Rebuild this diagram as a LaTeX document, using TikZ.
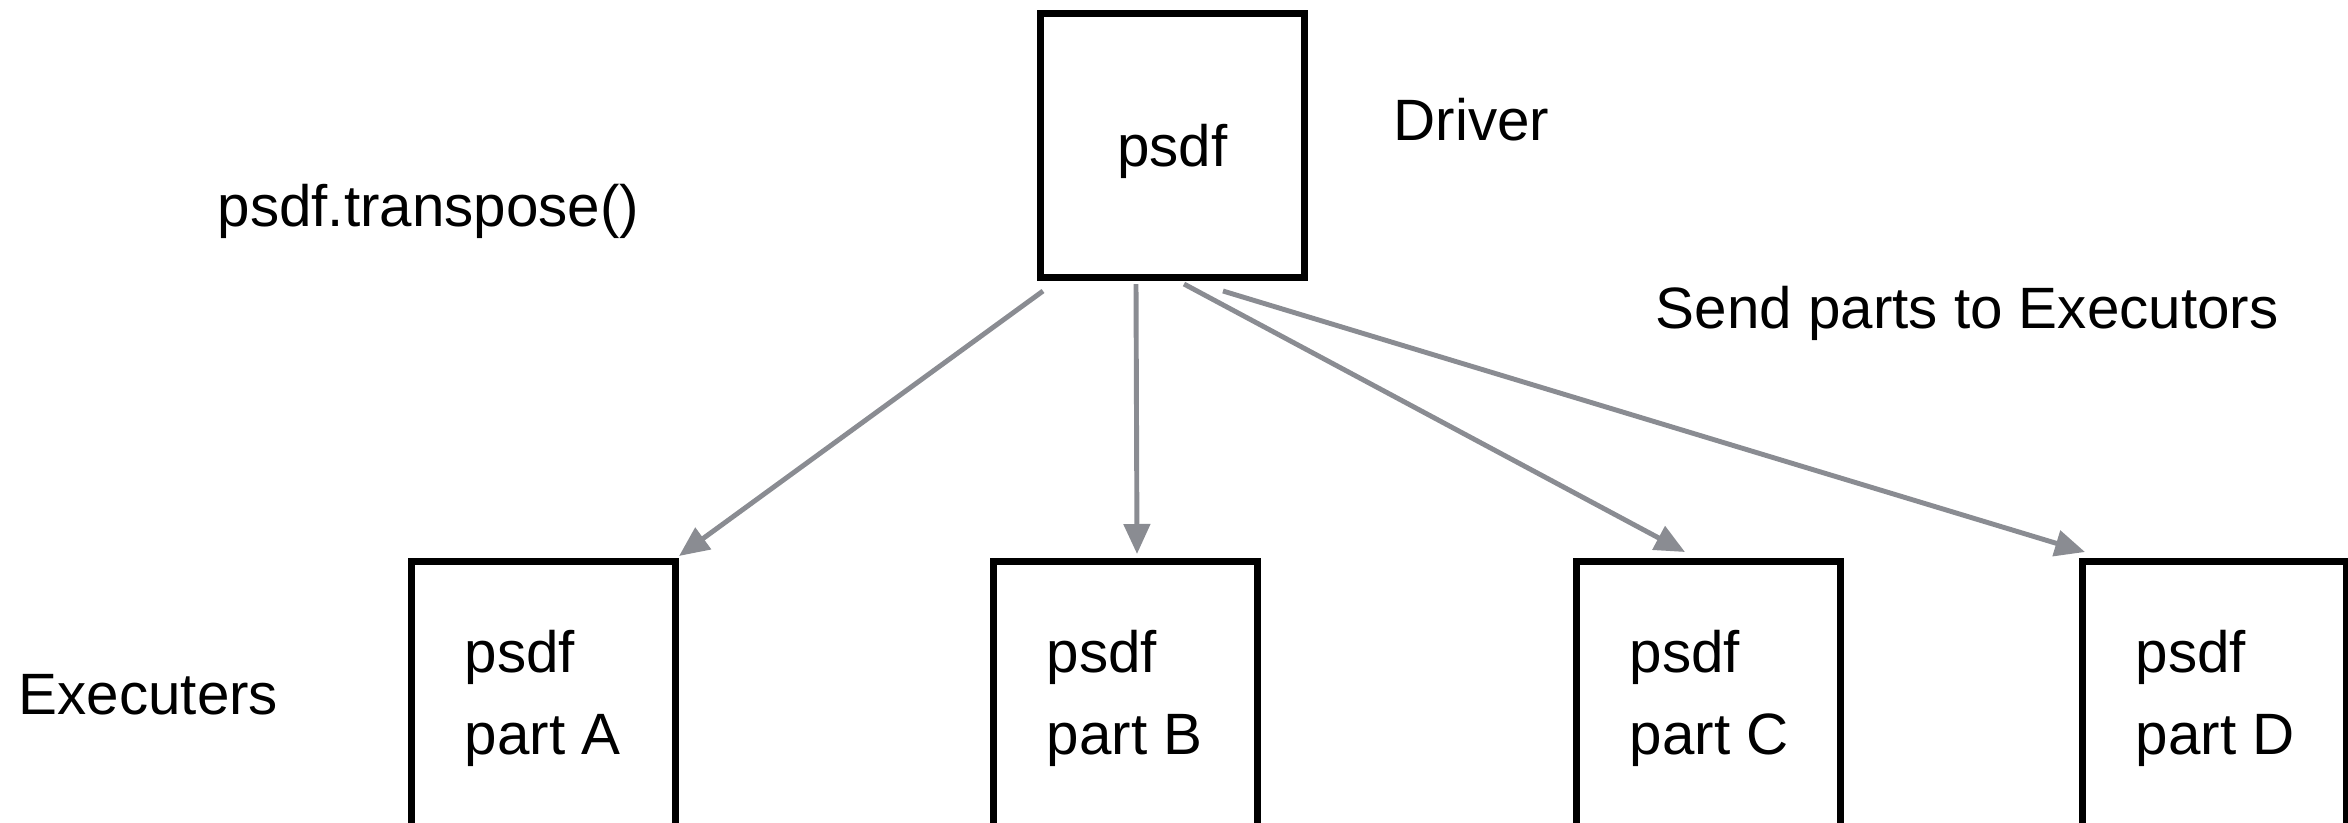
\documentclass[tikz,border=0pt]{standalone}
\usepackage{fontspec}
\setmainfont{Liberation Sans}
\usetikzlibrary{positioning, arrows.meta}
\definecolor{arrowgray}{RGB}{138,140,146}
\tikzset{box/.style={draw,line width=2pt,minimum width=2.64cm,minimum height=2.64cm,inner sep=0pt},
         exebox/.style={box,anchor=north west,minimum height=3.3cm},
         lbl/.style={anchor=base west,inner sep=0pt,font=\fontsize{16.6}{20}\selectfont},
         send/.style={-{Triangle[length=3mm,width=2.6mm]},draw=arrowgray,line width=1.4pt},
        }

\begin{document}
\begin{tikzpicture}
        \useasboundingbox (0,0) rectangle (23.48,8.22);

        \node[box](drv)at(11.725,6.765){};
        \node[lbl, anchor=base](drvtxt)at([yshift=-0.215cm]drv.center){psdf};
        \node[lbl](driver)at(13.93,6.81){Driver};
        \node[lbl](transp)at(2.17,5.96){psdf.transpose()};
        \node[lbl](sendtxt)at(16.55,4.94){Send parts to Executors};
        \node[lbl](exec)at(0.18,1.08){Executers};

        \node[exebox](pa)at(4.08,2.64){};
        \node[lbl](pa1)at([xshift=0.56cm,yshift=-1.14cm]pa.north west){psdf};
        \node[lbl](pa2)at([xshift=0.56cm,yshift=-1.96cm]pa.north west){part A};

        \node[exebox](pb)at(9.90,2.64){};
        \node[lbl](pb1)at([xshift=0.56cm,yshift=-1.14cm]pb.north west){psdf};
        \node[lbl](pb2)at([xshift=0.56cm,yshift=-1.96cm]pb.north west){part B};

        \node[exebox](pc)at(15.73,2.64){};
        \node[lbl](pc1)at([xshift=0.56cm,yshift=-1.14cm]pc.north west){psdf};
        \node[lbl](pc2)at([xshift=0.56cm,yshift=-1.96cm]pc.north west){part C};

        \node[exebox](pd)at(20.79,2.64){};
        \node[lbl](pd1)at([xshift=0.56cm,yshift=-1.14cm]pd.north west){psdf};
        \node[lbl](pd2)at([xshift=0.56cm,yshift=-1.96cm]pd.north west){part D};

        \draw[send]([xshift=0.06cm,yshift=-0.10cm]drv.south west)--([xshift=0.0cm,yshift=0.02cm]pa.north east);
        \draw[send]([xshift=0.99cm,yshift=-0.03cm]drv.south west)--([xshift=1.47cm,yshift=0.04cm]pb.north west);
        \draw[send]([xshift=1.47cm,yshift=-0.03cm]drv.south west)--([xshift=1.12cm,yshift=0.06cm]pc.north west);
        \draw[send]([xshift=1.86cm,yshift=-0.10cm]drv.south west)--([xshift=0.06cm,yshift=0.06cm]pd.north west);
    \end{tikzpicture}
\end{document}
